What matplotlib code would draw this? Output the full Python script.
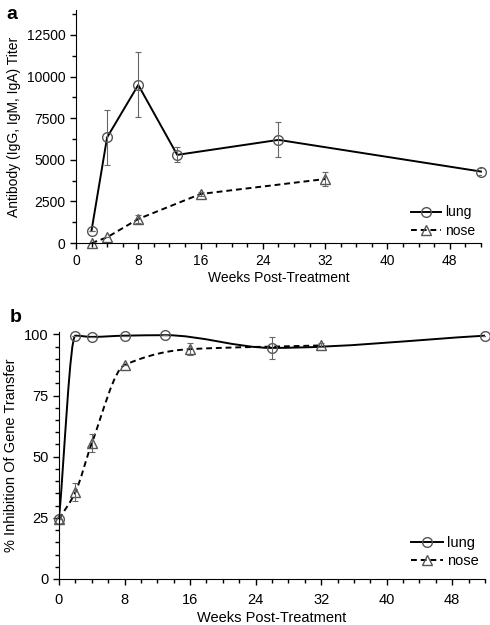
import matplotlib
matplotlib.use("Agg")
import matplotlib.pyplot as plt
from matplotlib.path import Path
from matplotlib.patches import PathPatch
from matplotlib.lines import Line2D
from matplotlib.ticker import MultipleLocator

plt.rcParams["font.family"] = ["Liberation Sans", "DejaVu Sans"]
plt.rcParams["font.size"] = 10

# panel a: antibody titer
A_LUNG_X = [2, 4, 8, 13, 26, 52]
A_LUNG_Y = [750, 6350, 9500, 5300, 6200, 4300]
A_LUNG_ERR = [0, 1650, 1950, 450, 1050, 200]
A_NOSE_X = [2, 4, 8, 16, 32]
A_NOSE_Y = [0, 350, 1450, 2950, 3850]
A_NOSE_ERR = [0, 0, 250, 100, 400]

# panel b: % inhibition of gene transfer
B_LUNG_X = [0, 2, 4, 8, 13, 26, 52]
B_LUNG_Y = [24.5, 99.5, 99, 99.5, 99.7, 94.5, 99.5]
B_LUNG_ERR = [0, 0, 0, 0, 0, 4.5, 0]
B_NOSE_X = [0, 2, 4, 8, 16, 32]
B_NOSE_Y = [24.5, 35.5, 55.5, 87.5, 94, 95.5]
B_NOSE_ERR = [0, 3.8, 3.6, 0, 2.5, 0.8]

MK = dict(markerfacecolor="none", markeredgecolor="#555555", markersize=7,
          markeredgewidth=1.0)
ERR = dict(fmt="none", ecolor="#666666", elinewidth=0.8, capsize=2.5,
           capthick=0.8)


def smooth_path(x, y):
    # monotone cubic (Fritsch-Carlson) tangents -> bezier path drawn by mpl
    n = len(x)
    d = [(y[i + 1] - y[i]) / (x[i + 1] - x[i]) for i in range(n - 1)]
    m = [d[0]] + [0.0] * (n - 2) + [d[-1]]
    for i in range(1, n - 1):
        if d[i - 1] * d[i] > 0:
            m[i] = 2 / (1 / d[i - 1] + 1 / d[i])
    verts = [(x[0], y[0])]
    codes = [Path.MOVETO]
    for i in range(n - 1):
        h = x[i + 1] - x[i]
        verts += [(x[i] + h / 3, y[i] + m[i] * h / 3),
                  (x[i + 1] - h / 3, y[i + 1] - m[i + 1] * h / 3),
                  (x[i + 1], y[i + 1])]
        codes += [Path.CURVE4] * 3
    return Path(verts, codes)


def style_axes(ax, fs, pad, labelpad):
    for s in ("top", "right"):
        ax.spines[s].set_visible(False)
    ax.xaxis.set_major_locator(MultipleLocator(8))
    ax.xaxis.set_minor_locator(MultipleLocator(2))
    ax.tick_params(which="major", length=4, width=1, direction="out",
                   labelsize=fs)
    ax.tick_params(axis="x", which="major", pad=pad)
    ax.tick_params(which="minor", length=3, width=1, direction="out")
    ax.set_xlabel("Weeks Post-Treatment", labelpad=labelpad, fontsize=fs)


def legend(ax, fs, y0):
    handles = [
        Line2D([], [], color="black", lw=1.4, marker="o", **MK),
        Line2D([], [], color="black", lw=1.4, ls=(0, (3, 2)), marker="^", **MK),
    ]
    ax.legend(handles, ["lung", "nose"], loc="lower right", frameon=False,
              handlelength=2.2, handletextpad=0.3, labelspacing=0.3,
              borderaxespad=0.0, bbox_to_anchor=(1.0, y0), fontsize=fs)


fig = plt.figure(figsize=(4.9, 6.25), dpi=100)

ax = fig.add_axes([0.155, 0.611, 0.8265, 0.373])
ax.plot(A_LUNG_X, A_LUNG_Y, color="black", lw=1.4, marker="o", clip_on=False, **MK)
ax.plot(A_NOSE_X, A_NOSE_Y, color="black", lw=1.4, ls=(0, (3, 2)), marker="^",
        clip_on=False, **MK)
ax.errorbar(A_LUNG_X, A_LUNG_Y, yerr=A_LUNG_ERR, **ERR)
ax.errorbar(A_NOSE_X, A_NOSE_Y, yerr=A_NOSE_ERR, **ERR)
ax.set_xlim(0, 52)
ax.set_ylim(0, 14000)
ax.yaxis.set_major_locator(MultipleLocator(2500))
ax.yaxis.set_minor_locator(MultipleLocator(1250))
style_axes(ax, 10, 4, 2)
ax.set_ylabel("Antibody (IgG, IgM, IgA) Titer", labelpad=4)
legend(ax, 10, 0.0)
fig.text(0.012, 0.99, "a", fontsize=14, fontweight="bold", va="top")

bx = fig.add_axes([0.1204, 0.0736, 0.8694, 0.3952])
bx.add_patch(PathPatch(smooth_path(B_LUNG_X, B_LUNG_Y), fill=False,
                       edgecolor="black", lw=1.4))
bx.add_patch(PathPatch(smooth_path(B_NOSE_X, B_NOSE_Y), fill=False,
                       edgecolor="black", lw=1.4, ls=(0, (3, 2))))
bx.plot(B_LUNG_X, B_LUNG_Y, ls="none", marker="o", clip_on=False, **MK)
bx.plot(B_NOSE_X, B_NOSE_Y, ls="none", marker="^", clip_on=False, **MK)
bx.errorbar(B_LUNG_X, B_LUNG_Y, yerr=B_LUNG_ERR, **ERR)
bx.errorbar(B_NOSE_X, B_NOSE_Y, yerr=B_NOSE_ERR, **ERR)
bx.set_xlim(0, 52)
bx.set_ylim(0, 101)
bx.yaxis.set_major_locator(MultipleLocator(25))
bx.yaxis.set_minor_locator(MultipleLocator(5))
style_axes(bx, 10.5, 6, 3)
bx.set_ylabel("% Inhibition Of Gene Transfer", labelpad=4, fontsize=10.5)
legend(bx, 10.5, 0.02)
fig.text(0.02, 0.505, "b", fontsize=14, fontweight="bold", va="top")

fig.savefig("out.png", dpi=100)
